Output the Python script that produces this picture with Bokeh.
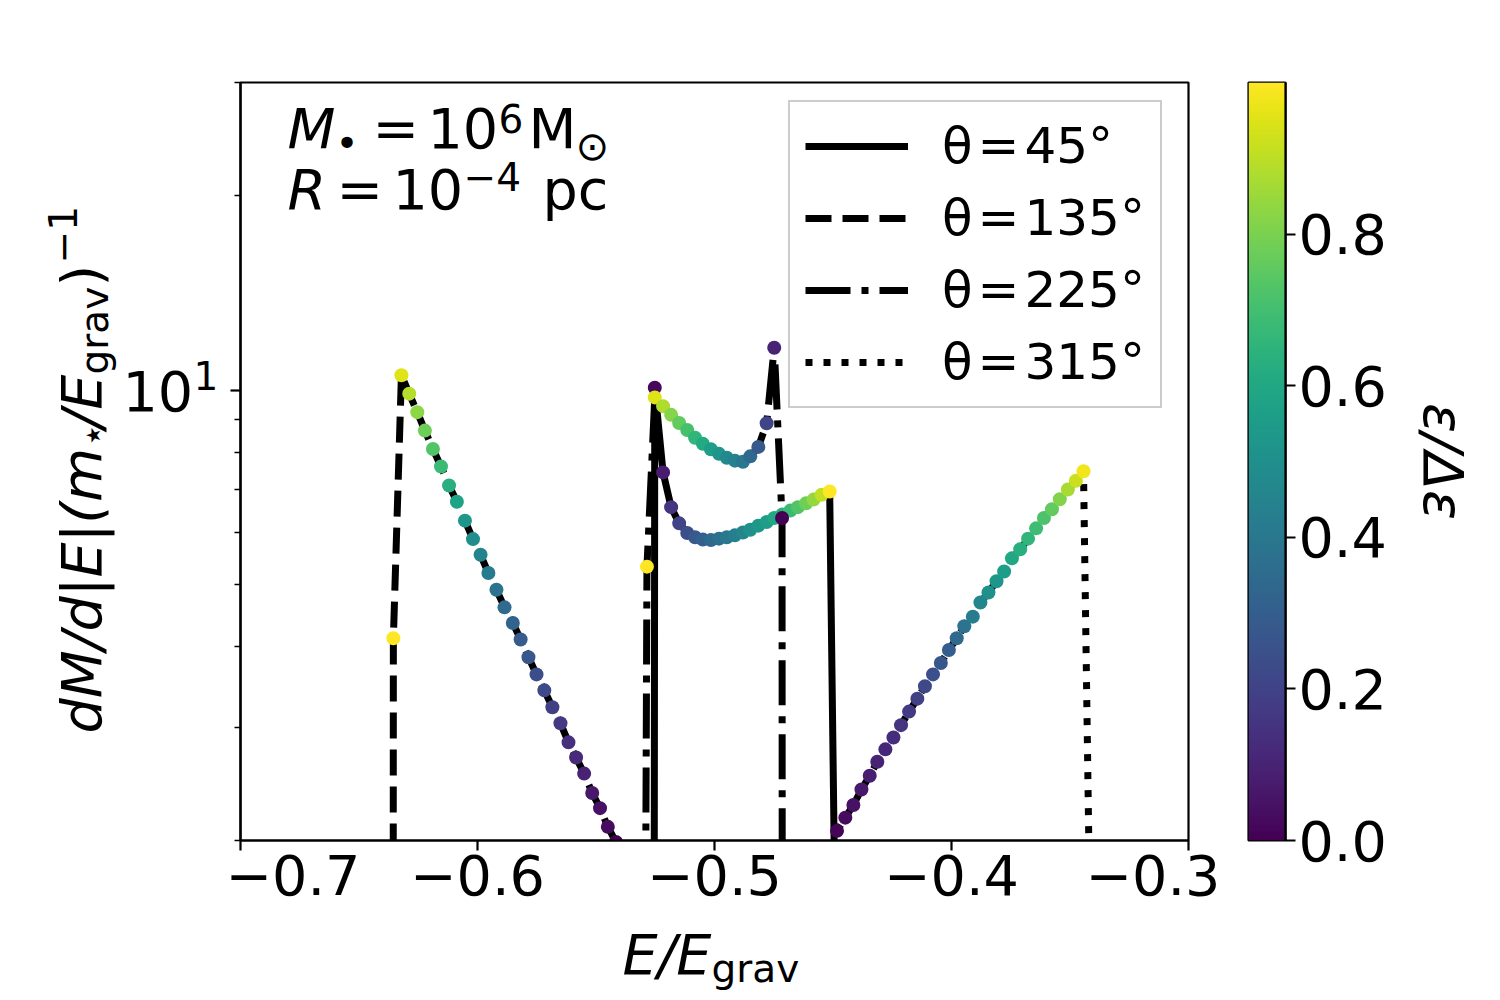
import numpy as np
from bokeh.plotting import figure
from bokeh.models import (ColumnDataSource, LinearColorMapper, FixedTicker, Label,
                          Legend, LegendItem, CustomJSTickFormatter)
from bokeh.palettes import Viridis256
from bokeh.layouts import row, column
from bokeh.transform import transform
from bokeh.core.properties import value
from bokeh.embed import file_html
from bokeh.resources import INLINE

# ---------------- data ----------------
# theta = 45 deg (solid)
e45 = [-0.5255, -0.5252, -0.5217, -0.5183, -0.5149, -0.5115, -0.5082, -0.5049, -0.5015,
       -0.4981, -0.4948, -0.4914, -0.4880, -0.4849, -0.4815, -0.4780, -0.4748, -0.4714,
       -0.4680, -0.4648, -0.4614, -0.4582, -0.4548, -0.4514, -0.4485]
m45 = [1.0, 10.08, 7.45, 6.58, 6.21, 6.00, 5.91, 5.86, 5.85, 5.88, 5.91, 5.95, 6.01, 6.07,
       6.16, 6.24, 6.33, 6.41, 6.50, 6.58, 6.67, 6.76, 6.88, 6.96, 1.0]
c45 = [0.0, 0.02, 0.08, 0.15, 0.2, 0.24, 0.28, 0.31, 0.34, 0.37, 0.4, 0.43, 0.46, 0.5,
       0.53, 0.56, 0.6, 0.64, 0.68, 0.73, 0.78, 0.84, 0.91, 1.0, 1.0]

# theta = 135 deg (dashed)
e135 = [-0.6356, -0.6355, -0.6321, -0.6288, -0.6254, -0.6222, -0.6188, -0.6154, -0.6120,
        -0.6087, -0.6053, -0.6019, -0.5987, -0.5954, -0.5920, -0.5886, -0.5851, -0.5818,
        -0.5785, -0.5751, -0.5718, -0.5684, -0.5650, -0.5616, -0.5584, -0.5550, -0.5516,
        -0.5483, -0.5450, -0.5416]
m135 = [1.0, 4.12, 10.54, 9.87, 9.24, 8.65, 8.10, 7.61, 7.11, 6.71, 6.27, 5.87, 5.55, 5.20,
        4.90, 4.60, 4.35, 4.10, 3.85, 3.62, 3.42, 3.22, 3.04, 2.84, 2.69, 2.54, 2.37, 2.245,
        2.10, 1.99]
c135 = [1.0, 1.0, 0.95, 0.89, 0.83, 0.78, 0.73, 0.68, 0.63, 0.58, 0.53, 0.49, 0.45, 0.41,
        0.38, 0.35, 0.32, 0.29, 0.27, 0.24, 0.22, 0.19, 0.17, 0.14, 0.12, 0.10, 0.07, 0.05,
        0.03, 0.0]

# theta = 225 deg (dash-dot)
e225 = [-0.5293, -0.5285, -0.5252, -0.5217, -0.5183, -0.5149, -0.5115, -0.5082, -0.5049,
        -0.5015, -0.4981, -0.4948, -0.4914, -0.4880, -0.4849, -0.4815, -0.4780, -0.4748,
        -0.4715, -0.4714]
m225 = [1.0, 5.32, 9.74, 9.44, 9.15, 8.89, 8.67, 8.43, 8.25, 8.09, 7.96, 7.85, 7.77, 7.74,
        7.89, 8.16, 8.88, 11.63, 6.33, 1.0]
c225 = [1.0, 1.0, 0.95, 0.88, 0.82, 0.76, 0.71, 0.66, 0.61, 0.56, 0.52, 0.48, 0.44, 0.4,
        0.34, 0.28, 0.21, 0.1, 0.0, 0.0]

# theta = 315 deg (dotted)
e315 = [-0.4483, -0.4448, -0.4414, -0.4380, -0.4345, -0.4313, -0.4279, -0.4245, -0.4213,
        -0.4179, -0.4144, -0.4112, -0.4078, -0.4045, -0.4011, -0.3978, -0.3946, -0.3910,
        -0.3878, -0.3844, -0.3810, -0.3778, -0.3745, -0.3710, -0.3677, -0.3643, -0.3610,
        -0.3576, -0.3543, -0.3509, -0.3475, -0.3443, -0.3409]
m315 = [2.07, 2.17, 2.27, 2.40, 2.52, 2.65, 2.77, 2.89, 3.02, 3.17, 3.32, 3.47, 3.62, 3.77,
        3.95, 4.12, 4.30, 4.45, 4.68, 4.85, 5.05, 5.23, 5.48, 5.66, 5.88, 6.10, 6.33, 6.53,
        6.77, 7.01, 7.23, 7.48, 1.0]
c315 = [0.01, 0.03, 0.05, 0.07, 0.085, 0.1, 0.115, 0.13, 0.15, 0.17, 0.195, 0.22, 0.245,
        0.27, 0.3, 0.34, 0.38, 0.42, 0.46, 0.5, 0.53, 0.56, 0.6, 0.63, 0.66, 0.69, 0.72,
        0.76, 0.81, 0.87, 0.92, 0.98, 1.0]

labels = ["θ\u200a=\u200a45°", "θ\u200a=\u200a135°", "θ\u200a=\u200a225°", "θ\u200a=\u200a315°"]
x_ticks = [-0.7, -0.6, -0.5, -0.4, -0.3]
y_major = [10]
y_minor = [2, 3, 4, 5, 6, 7, 8, 9, 20, 30]
cb_ticks = [0.0, 0.2, 0.4, 0.6, 0.8]

# ---------------- styling ----------------
FONT = "DejaVu Sans"
BIG = 55.6
SUB = 39.0
ROW_H = 921
XL_H = 77
K = 0.35  # offset between requested anchor and drawn baseline (fraction of font size)

mapper = LinearColorMapper(palette=Viridis256, low=0.0, high=1.0)


def lab(fig, text, sx, sy, size, style="normal", angle=0.0, align="left"):
    """Place text whose baseline passes through (sx, sy) in frame screen units."""
    ux, uy = -np.sin(angle), np.cos(angle)
    fig.add_layout(Label(x=sx + K * size * ux, y=sy + K * size * uy,
                         x_units="screen", y_units="screen", text=text,
                         text_font=FONT, text_font_size="%.1fpx" % size,
                         text_font_style=style, text_color="black", angle=angle,
                         text_align=align, text_baseline="alphabetic"))


def text_fig(w, h):
    f = figure(width=w, height=h, x_range=(0, 1), y_range=(0, 1), x_axis_location=None,
               y_axis_location=None, toolbar_location=None, title=None,
               output_backend="svg", min_border=0)
    f.outline_line_color = None
    f.xgrid.visible = False
    f.ygrid.visible = False
    f.background_fill_color = "white"
    f.border_fill_color = "white"
    return f


# ---------------- main plot ----------------
p = figure(width=995, height=ROW_H, x_range=(-0.7, -0.3), y_range=(2, 30),
           y_axis_type="log", output_backend="svg", toolbar_location=None, title=None,
           min_border_left=15, min_border_right=32, min_border_top=82, min_border_bottom=81)
p.background_fill_color = "white"
p.border_fill_color = "white"
p.xgrid.visible = False
p.ygrid.visible = False
p.outline_line_color = "black"
p.outline_line_width = 2.2
p.outline_line_alpha = 1.0

series = [
    (labels[0], e45, m45, c45, "solid"),
    (labels[1], e135, m135, c135, "26 11"),
    (labels[2], e225, m225, c225, "45 11 7 11"),
    (labels[3], e315, m315, c315, "7 11"),
]
items = []
sources = []
for name, e, m, c, dash in series:
    src = ColumnDataSource(dict(e=e, m=m, c=c))
    r = p.line("e", "m", source=src, line_color="black", line_width=7,
               line_dash=dash, line_join="round")
    items.append(LegendItem(label=value(name), renderers=[r]))
    sources.append(src)
for src in sources:
    p.scatter("e", "m", source=src, marker="circle", size=14,
              fill_color=transform("c", mapper), line_color=None)

xa = p.xaxis[0]
xa.ticker = FixedTicker(ticks=x_ticks)
xa.formatter = CustomJSTickFormatter(
    code="return (tick < 0 ? '\u2212' : '') + Math.abs(tick).toFixed(1);")
ya = p.yaxis[0]
ya.ticker = FixedTicker(ticks=y_major, minor_ticks=y_minor)
ya.formatter = CustomJSTickFormatter(code="return '';")
for ax in (xa, ya):
    ax.axis_line_width = 2.2
    ax.axis_line_color = "black"
    ax.major_tick_line_width = 2.2
    ax.major_tick_out = 10
    ax.major_tick_in = 0
    ax.minor_tick_line_width = 1.7
    ax.minor_tick_out = 6
    ax.minor_tick_in = 0
    ax.major_label_text_font = FONT
    ax.major_label_text_font_size = "55.6px"
    ax.major_label_text_color = "black"
xa.minor_tick_line_color = None
xa.major_label_standoff = 4
ya.major_label_standoff = 0

# annotation text (baselines in screen units relative to the plot frame)
lab(p, "M", 47, 693, BIG, "italic")
lab(p, "\u2022", 95, 683, SUB)
lab(p, "=", 132, 693, BIG)
lab(p, "10", 187, 693, BIG)
lab(p, "6", 258, 708, SUB)
lab(p, "M", 288, 693, BIG)
lab(p, "\u2299", 335, 681, 40.0)
lab(p, "R", 47, 632, BIG, "italic")
lab(p, "=", 96, 632, BIG)
lab(p, "10", 152, 632, BIG)
lab(p, "\u22124", 223, 650, SUB)
lab(p, "pc", 302, 632, BIG)

leg = Legend(items=items, location=(548, 432), orientation="vertical",
             label_text_font=FONT, label_text_font_size="50px", label_text_color="black",
             glyph_width=103, glyph_height=50, label_height=50, label_standoff=34,
             padding=15, spacing=14, margin=0,
             border_line_color="#cccccc", border_line_width=2.2, border_line_alpha=1.0,
             background_fill_color="white", background_fill_alpha=0.8)
p.add_layout(leg)

# ---------------- y label + y tick label panel (frame aligned with the plot) ----------------
yl = text_fig(225, ROW_H)
A = np.pi / 2
lab(yl, "dM/d|E|(m", 100, 107, BIG, "italic", A)
lab(yl, "\u22c6", 106, 393, SUB, "normal", A)
lab(yl, "/E", 100, 412, BIG, "italic", A)
lab(yl, "grav", 108, 466, SUB, "normal", A)
lab(yl, ")", 100, 554, BIG, "normal", A)
lab(yl, "\u22121", 76, 577, SUB, "normal", A)
# major tick label 10^1 at the y = 10 tick
lab(yl, "10", 122, 430, BIG)
lab(yl, "1", 193, 451.7, SUB)

# ---------------- colour bar ----------------
p2 = figure(width=170, height=ROW_H, x_range=(0, 1), y_range=(0, 1),
            x_axis_location=None, y_axis_location="right", output_backend="svg",
            toolbar_location=None, title=None,
            min_border_left=28, min_border_right=105, min_border_top=82, min_border_bottom=81)
p2.background_fill_color = "white"
p2.border_fill_color = "white"
p2.xgrid.visible = False
p2.ygrid.visible = False
p2.outline_line_color = "black"
p2.outline_line_width = 2.2
grad = np.linspace(0.0, 1.0, 256).reshape(256, 1)
p2.image(image=[grad], x=0, y=0, dw=1, dh=1, color_mapper=mapper)
ca = p2.yaxis[0]
ca.ticker = FixedTicker(ticks=cb_ticks)
ca.formatter = CustomJSTickFormatter(code="return tick.toFixed(1);")
ca.axis_line_width = 2.2
ca.major_tick_line_width = 2.2
ca.major_tick_out = 10
ca.major_tick_in = 0
ca.minor_tick_line_color = None
ca.major_label_text_font = FONT
ca.major_label_text_font_size = "55.6px"
ca.major_label_text_color = "black"
ca.major_label_standoff = 3

cl = text_fig(108, ROW_H)
lab(cl, "ε/Δε", 34, 379, BIG, "italic", -np.pi / 2, "center")

# ---------------- x label panel ----------------
xl = text_fig(1498, XL_H)
lab(xl, "E/E", 622, 24.7, BIG, "italic")
lab(xl, "grav", 711, 16.3, SUB)

layout = column(row(yl, p, p2, cl), xl)
open("out.html", "w").write(file_html(layout, INLINE))
